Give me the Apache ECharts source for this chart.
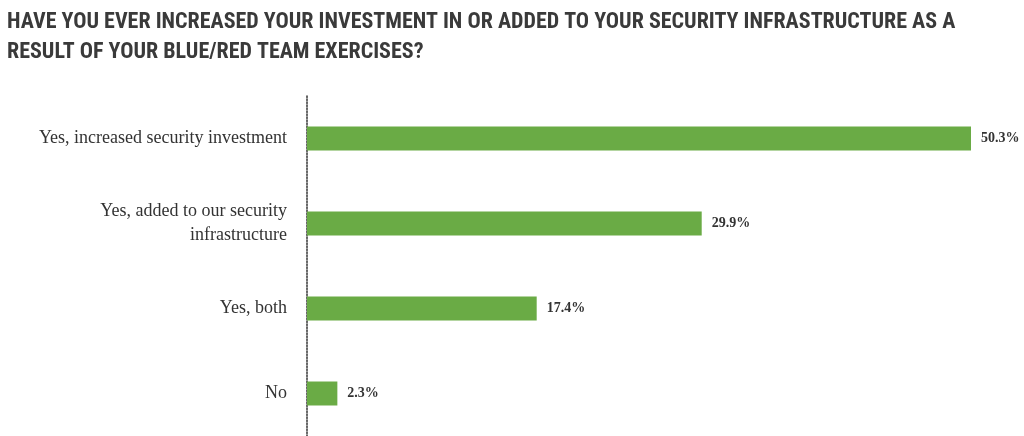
<!DOCTYPE html>
<html><head><meta charset="utf-8">
<script src="https://cdn.jsdelivr.net/npm/echarts@6/dist/echarts.min.js"></script>
<style>html,body{margin:0;padding:0;background:#fff}#c{width:1024px;height:436px}</style>
</head><body><div id="c"></div>
<script>
const categories = ["Yes, increased security investment", "Yes, added to our security\ninfrastructure", "Yes, both", "No"];
const values = [50.3, 29.9, 17.4, 2.3];
const titleText = "HAVE YOU EVER INCREASED YOUR INVESTMENT IN OR ADDED TO YOUR SECURITY INFRASTRUCTURE AS A\nRESULT OF YOUR BLUE/RED TEAM EXERCISES?";
const chart = echarts.init(document.getElementById('c'));
chart.setOption({
  animation: false,
  title: { text: titleText, left: 2, top: 2, textStyle: { fontFamily: "Roboto Condensed, DejaVu Sans Condensed, Roboto", fontWeight: "bold", fontSize: 22, color: "#3a3a3a", lineHeight: 30 } },
  grid: { left: 307, right: 53, top: 96, height: 340 },
  xAxis: { type: 'value', min: 0, max: 50.3, show: false },
  yAxis: { type: 'category', data: categories, inverse: true,
    axisLine: { show: true, lineStyle: { type: 'dotted', color: '#333', width: 1.5 } },
    axisTick: { show: false },
    axisLabel: { fontFamily: "Liberation Serif", fontSize: 18, color: "#333", margin: 20, align: 'right', lineHeight: 24 } },
  series: [{ type: 'bar', data: values, barWidth: 24, itemStyle: { color: '#6aab45' },
    label: { show: true, position: 'right', distance: 10, formatter: p => p.value.toFixed(1) + '%', fontFamily: "Liberation Serif", fontWeight: 'bold', fontSize: 14, color: '#333' } }]
});
</script></body></html>
